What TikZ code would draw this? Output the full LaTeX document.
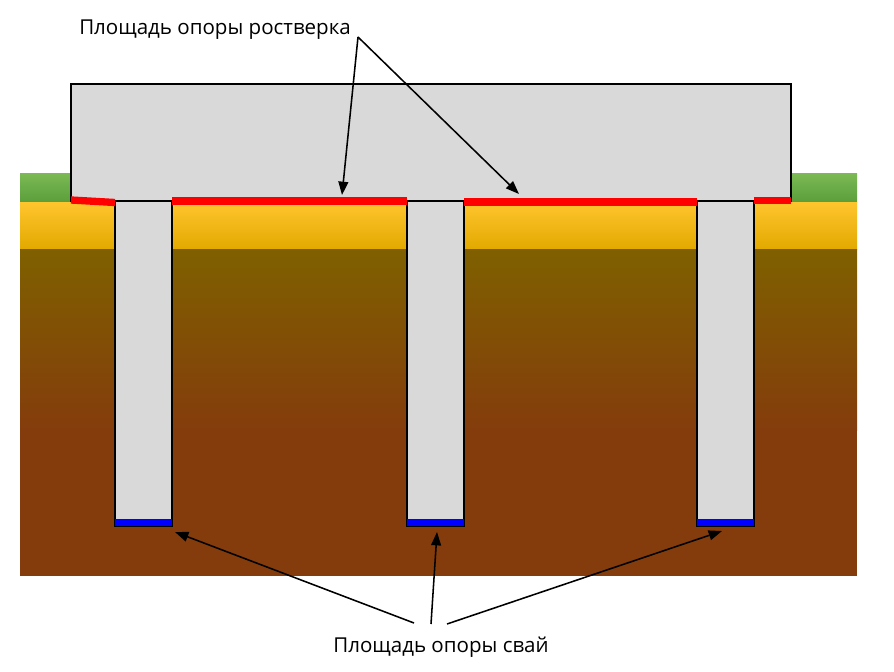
\documentclass[tikz,border=0pt]{standalone}
\usepackage{fontspec}
\setmainfont{Open Sans}
\usetikzlibrary{arrows.meta}

\definecolor{grassTop}{HTML}{7CBA55}
\definecolor{grassBot}{HTML}{5A9E3A}
\definecolor{sandTop}{HTML}{FFC52E}
\definecolor{sand}{HTML}{FFC800}
\definecolor{sandBot}{HTML}{E2A900}
\definecolor{clayTop}{HTML}{7F6000}
\definecolor{clay}{HTML}{843C0C}
\definecolor{concrete}{HTML}{D9D9D9}

\begin{document}
\begin{tikzpicture}[x=0.025cm,y=-0.025cm,
  outline/.style={draw=black,line width=1.4pt,fill=concrete},
  redarea/.style={draw=red,line width=5.2pt},
  pilebase/.style={draw=blue,line width=5.5pt},
  pointer/.style={-{Triangle[length=9.5pt,width=7pt]},line width=1.1pt},
  txt/.style={inner sep=0pt,font=\fontsize{14.6}{17}\selectfont}]

\useasboundingbox (0,0) rectangle (894,671);

% ground layers
\fill[top color=grassTop,bottom color=grassBot] (20,173) rectangle (857,202);
\fill[top color=sandTop,middle color=sand,bottom color=sandBot] (20,202) rectangle (857,249.5);
\fill[top color=clayTop,bottom color=clay] (20,249.5) rectangle (857,430);
\fill[clay] (20,429.5) rectangle (857,576);

% grillage and piles
\draw[outline] (71,84) rectangle (791,201);
\foreach \x in {115,407,697}
  \draw[outline] (\x,201) rectangle (\x+57,526);

% bearing areas
\draw[redarea] (71,200) -- (115,202.5);
\draw[redarea] (172,201) -- (407,201);
\draw[redarea] (464,202) -- (697,202);
\draw[redarea] (754,200.5) -- (791,200.5);
\foreach \x in {115,407,697}
  \draw[pilebase] (\x,522.5) -- (\x+57,522.5);

\node[txt,anchor=base west] (grillagelabel) at (79,34) {Площадь опоры ростверка};
\node[txt,anchor=base] (pilelabel) at (441,652) {Площадь опоры свай};

\coordinate (grillagefork) at (358,37);
\coordinate (grillageleft) at (342,195);
\coordinate (grillageright) at (519,194);
\draw[pointer] (grillagefork) -- (grillageleft);
\draw[pointer] (grillagefork) -- (grillageright);

\coordinate (pilestartA) at (414,623);
\coordinate (pilestartB) at (431,624);
\coordinate (pilestartC) at (447,624);
\coordinate (pileA) at (175,532);
\coordinate (pileB) at (437,532);
\coordinate (pileC) at (722,531);
\draw[pointer] (pilestartA) -- (pileA);
\draw[pointer] (pilestartB) -- (pileB);
\draw[pointer] (pilestartC) -- (pileC);
\end{tikzpicture}
\end{document}
